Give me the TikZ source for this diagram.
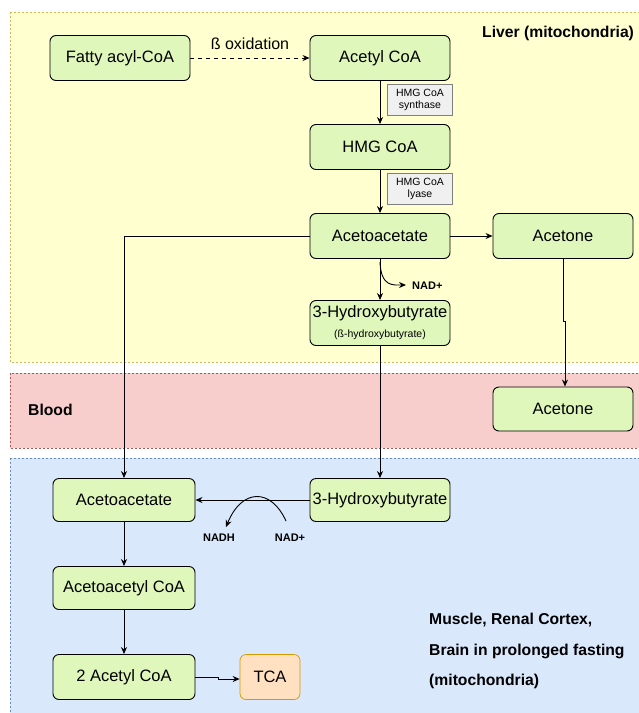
\documentclass[tikz,border=0pt]{standalone}
\usepackage{fontspec}
\setmainfont{Liberation Sans}
\usetikzlibrary{arrows.meta}
\definecolor{liverfill}{HTML}{FFFFD0}
\definecolor{liverdraw}{HTML}{D6B656}
\definecolor{bloodfill}{HTML}{F8CECC}
\definecolor{blooddraw}{HTML}{B85450}
\definecolor{musclefill}{HTML}{DAE8FC}
\definecolor{muscledraw}{HTML}{6C8EBF}
\definecolor{nodefill}{HTML}{E0F7BC}
\definecolor{tcafill}{HTML}{FFE0C0}
\definecolor{tcadraw}{HTML}{D79B00}
\definecolor{enzfill}{HTML}{F0F0F0}
\begin{document}
\begin{tikzpicture}[x=1pt,y=-1pt,
  region/.style={dashed, dash pattern=on 2pt off 2pt, line width=0.6pt},
  mol/.style={draw=black, fill=nodefill, rounded corners=6pt, line width=0.9pt, minimum width=140pt, minimum height=45pt, inner sep=1pt, align=center, font=\fontsize{16.5}{19}\selectfont},
  enz/.style={draw=gray, fill=enzfill, line width=0.7pt, minimum width=65pt, minimum height=31pt, inner sep=1pt, align=center, font=\fontsize{10.5}{12.5}\selectfont},
  arr/.style={-{Stealth[length=7pt,width=6pt]}, line width=0.9pt},
  lbl/.style={font=\bfseries\fontsize{15.7}{18}\selectfont},
  small/.style={font=\bfseries\fontsize{11}{13}\selectfont}
]
\useasboundingbox (0,0) rectangle (639,713);
% regions
\draw[region, draw=liverdraw, fill=liverfill] (10,12) rectangle (645,362);
\draw[region, draw=blooddraw, fill=bloodfill] (10,373) rectangle (645,448);
\draw[region, draw=muscledraw, fill=musclefill] (10,458) rectangle (645,720);

% region labels
\node[lbl, anchor=west, inner sep=0pt] (liver) at (482,33) {Liver (mitochondria)};
\node[lbl, anchor=west, inner sep=0pt] (blood) at (28,410) {Blood};
\node[lbl, anchor=west, inner sep=0pt] (m1) at (429,620) {Muscle, Renal Cortex,};
\node[lbl, anchor=west, inner sep=0pt] (m2) at (429,651) {Brain in prolonged fasting};
\node[lbl, anchor=west, inner sep=0pt] (m3) at (429,681) {(mitochondria)};

% liver nodes
\node[mol] (fa) at (120,58) {Fatty acyl-CoA};
\node[mol] (acoa) at (380,58) {Acetyl CoA};
\node[mol] (hmg) at (380,147) {HMG CoA};
\node[mol] (aa) at (380,236) {Acetoacetate};
\node[mol] (ac) at (563,236) {Acetone};
\node[mol] (hb) at (380,323) {3-Hydroxybutyrate\\[1pt]{\fontsize{10.5}{12}\selectfont(ß-hydroxybutyrate)}};
\node[enz] (syn) at (420,100) {HMG CoA\\synthase};
\node[enz] (lya) at (420,189) {HMG CoA\\lyase};

% blood
\node[mol, minimum height=44pt] (bac) at (563,409) {Acetone};

% muscle nodes
\node[mol, minimum width=142pt, minimum height=43pt] (maa) at (124,500) {Acetoacetate};
\node[mol, minimum height=43pt] (mhb) at (380,500) {3-Hydroxybutyrate};
\node[mol, minimum width=142pt, minimum height=43pt] (macc) at (124,588) {Acetoacetyl CoA};
\node[mol, minimum width=142pt] (m2a) at (124,677) {2 Acetyl CoA};
\node[mol, fill=tcafill, draw=tcadraw, line width=0.7pt, minimum width=60pt] (tca) at (270,677) {TCA};

% connectors
\draw[arr, dashed, dash pattern=on 4pt off 4pt] (fa) -- node[above=5pt, font=\fontsize{16}{18}\selectfont] (box) {ß oxidation} (acoa);
\draw[arr] (acoa) -- (hmg);
\draw[arr] (hmg) -- (aa);
\draw[arr] (aa) -- (ac);
\draw[arr] (aa) -- (hb);
\coordinate (nadstart) at (380,262);
\coordinate (nadend) at (406,285);
\draw[arr] (nadstart) .. controls (381,287) and (393,285) .. (nadend);
\node[small, anchor=west, inner sep=0pt] (nad1) at (412,286) {NAD+};
\coordinate (j1) at (563,321);
\coordinate (j2) at (565,321);
\draw[arr] (ac.south) -- (j1) -- (j2) -- (j2 |- bac.north);
\draw[arr] (aa.west) -| (maa.north);
\draw[arr] (hb) -- (mhb);
\draw[arr] (mhb) -- (maa);
\coordinate (c1) at (286,521);
\coordinate (c2) at (226,527);
\draw[arr] (c1) .. controls (271,488) and (242,488) .. (c2);
\node[small] (nadh) at (219,538) {NADH};
\node[small] (nad2) at (290,538) {NAD+};
\draw[arr] (maa) -- (macc);
\draw[arr] (macc) -- (m2a);
\coordinate (t1) at (218,677);
\coordinate (t2) at (218,679);
\draw[arr] (m2a.east |- t1) -- (t1) -- (t2) -- (t2 -| tca.west);
\end{tikzpicture}
\end{document}
